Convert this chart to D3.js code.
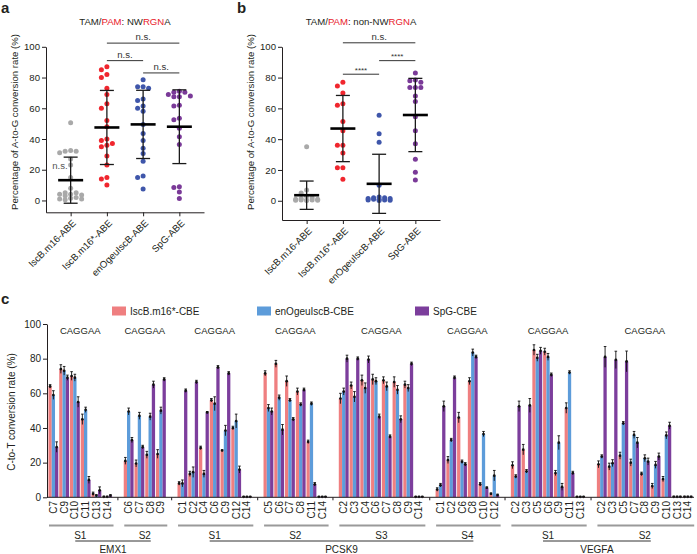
<!DOCTYPE html>
<html><head><meta charset="utf-8">
<script src="https://cdn.jsdelivr.net/npm/d3@7"></script>
<style>
body{margin:0;background:#fff}
svg{display:block;font-family:"Liberation Sans",Arial,Helvetica,sans-serif}
</style>
</head><body>
<svg id="chart" width="697" height="554"></svg>
<script>
// ---------------- Panels a & b data ----------------
const abCategories = ["IscB.m16-ABE","IscB.m16*-ABE","enOgeuIscB-ABE","SpG-ABE"];
const abTicks = [0,20,40,60,80,100];
const abDotColors = ["#a9a9a9","#f0262e","#3f56aa","#7a3a98"];

const aGray   = [50.5,32.5,32,32,31,27,23,15,8,5,5,4,4,3.5,3,2,1.5,1,1,0.5];
const aRed    = [87,85,82,80,73,69,63,60,52,48,40,39,37,36,35,29,23,15,14,10];
const aBlue   = [78.5,74,74,73,66,65,61.5,60,58,49.5,43.5,39,34,30.5,25.5,16,15,7.5];
const aPurple = [71,70.5,70.5,69,68,67.5,67.5,62,61.5,53.5,52.5,47,41.5,36.5,9,8.5,5.5,1.3];
const aMean   = [13.2,47.5,49.5,48];
const aSD     = [15,24.1,22.2,24];
const aBrackets = [[1,3,"n.s."],[1,2,"n.s."],[2,3,"n.s."]];
const aBracketLevels = [102.4,91,83];

const bGray   = [35,7,5,3,2,1.5,1,1,0.5,0.5,0.5,0.3,0.3,0.2];
const bRed    = [77,74.5,70,63,62,51.5,45.5,36,36,31,21.5,21.5,14];
const bBlue   = [55.5,43.5,38,10,2.5,2,2,1.5,1.5,1,1,0.5,0.5,0.3,0.2];
const bPurple = [83,78.5,78,77,73.5,73.5,73.5,68,64.5,54.5,45.5,37,27,18.5,13.5];
const bMean   = [3.6,46.9,11,55.7];
const bSD     = [9.2,21.5,19.2,23.8];
const bBrackets = [[1,3,"n.s."],[2,3,"****"],[1,2,"****"]];
const bBracketLevels = [102.6,91,82.2];

// ---------------- Panel c data ----------------
const cSeries = ["IscB.m16*-CBE","enOgeuIscB-CBE","SpG-CBE"];
const cBarColors = ["#ef7f80","#5d9cda","#7c3e9c"];
const cTicks = [0,20,40,60,80,100];
const cGenes = ["EMX1","PCSK9","VEGFA"];
const cGeneOf = [0,0,1,1,1,1,2,2];
const cSites = ["S1","S2","S1","S2","S3","S4","S1","S2"];
const cMotifs = ["CAGGAA","CAGGAA","CAGGAA","CAGGAA","CAGGAA","CAGGAA","CAGGAA","CAGGAA"];
const cCats = [
  ["C7","C9","C10","C11","C13","C14"],
  ["C6","C7","C8","C9"],
  ["C1","C2","C4","C6","C9","C12","C14"],
  ["C5","C6","C7","C8","C11","C14"],
  ["C2","C3","C4","C6","C7","C8","C9","C14"],
  ["C1","C2","C6","C8","C10","C12"],
  ["C2","C3","C5","C6","C9","C11","C13"],
  ["C2","C3","C5","C7","C8","C9","C10","C13","C14"]
];
const cRed = [
  [64,74,70,45,2,0.3],
  [21,19.5,24.5,25],
  [8,13.5,28.5,56,27,40,0.3],
  [71.5,77,67,61,32,0.3],
  [57,64.5,67.5,68,67.5,66.5,65,0.3],
  [4.5,21.5,46,67,7.5,2],
  [18.5,27.5,85,84,14,51.5,0.3],
  [19,17.7,24,20,13.5,6.5,10.5,0.3,0.3]
];
const cBlue = [
  [59,73,69,50.5,1,0.3],
  [49.5,47,46.5,50],
  [8,14.5,13.5,54,38.5,44,0.3],
  [51.5,57.5,56,53.5,54,0.3],
  [61,58,63,67,64,62,63,0.3],
  [7,33,20.5,83.5,36.5,12.5],
  [12,15,80.5,81,31.5,72,0.3],
  [23.5,19.7,42.7,36,22.5,18.7,35.7,0.3,0.3]
];
const cPurple = [
  [29,69,55,10,4,1],
  [33,29,65,68],
  [61.5,66.5,49,75,71.5,16,0.3],
  [49.5,39,45,62,7.5,0.3],
  [80,80,79.5,46.5,35,45,77,0.3],
  [52.5,69,19,81,5.5,1.3],
  [52.5,53,84.5,70.7,6,14,0.3],
  [81,79.3,78.4,31.5,20.6,23.5,41.3,0.3,0.3]
];
const cRedSD = [
  [1,2.5,2.5,3,1,0.3],[2,2,2,2.5],[1,1.5,1,1,0.5,1,0.2],[1.5,2,3,2,1,0.2],
  [3,2,3,3,2,3,2,0.2],[1,2,3,2,1,0.5],[2,3,3,2,1.5,3,0.2],[2,2,2,2,1,1.5,1.5,0.3,0.3]
];
const cBlueSD = [
  [2.5,2.5,2,1.5,0.5,0.3],[2,2,2,2],[2,3,2,4,3,4,0.2],[2,1.5,1,1,1,0.2],
  [2,3,3,2,2.5,2.5,2,0.2],[1,1,1,2,1.5,3],[1,1,2,2,4,1,0.2],[1,2,1,2,2,2,2,0.3,0.3]
];
const cPurpleSD = [
  [3,1.5,3,2,2,0.5],[1.5,1,2,1],[1,1,0.5,1,1,2,0.2],[2,3,1,1,1,0.2],
  [2,1,2,1.5,1,2,1,0.2],[3,1,1,1,0.5,0.5],[3,4,2,1,2,1,0.2],[6,5,6,3,2,2,2,0.3,0.3]
];

// ---------------- drawing ----------------
const svg = d3.select("#chart");
const INK = "#231f20";
const RED = "#e8202a";

function styleAxis(sel, fs){
  sel.selectAll("path,line").attr("stroke", INK).attr("stroke-width", 1);
  sel.selectAll("text").attr("fill", INK).attr("font-size", fs);
}

function swarm(vals, y, cx, step, minD, maxOff){
  const pts = vals.map(v => ({v, y: y(v)})).sort((a,b) => b.v - a.v);
  const cands = [0];
  for (let k = 1; k * step <= maxOff; k++) cands.push(-k*step, k*step);
  const placed = [];
  pts.forEach(p => {
    let best = cx, bestD = -1;
    for (const o of cands) {
      const x = cx + o;
      let d = Infinity;
      placed.forEach(q => { d = Math.min(d, Math.hypot(q.x - x, q.y - p.y)); });
      if (d >= minD) { best = x; bestD = d; break; }
      if (d > bestD) { bestD = d; best = x; }
    }
    p.x = best; placed.push(p);
  });
  return placed;
}

function scatterPanel(o){
  const g = svg.append("g");
  const y = d3.scaleLinear().domain([o.ymin, 100]).range([o.yBottom, 46.8]);
  const x = d3.scalePoint().domain(abCategories).range([o.x0, o.x0 + 158]).padding(0.68);

  // panel letter
  g.append("text").attr("x", o.x0 - 45).attr("y", 13).attr("font-size", 15)
    .attr("font-weight", "bold").attr("fill", INK).text(o.letter);

  // title
  const t = g.append("text").attr("x", (x(abCategories[0]) + x(abCategories[3])) / 2)
    .attr("y", 24.5).attr("text-anchor", "middle").attr("font-size", 9.6);
  o.title.forEach(([s, c]) => t.append("tspan").attr("fill", c).text(s));

  // y axis
  const ya = g.append("g").attr("transform", `translate(${o.x0},0)`)
    .call(d3.axisLeft(y).tickValues(abTicks).tickSize(4).tickSizeOuter(0).tickPadding(2));
  styleAxis(ya, 9.6);

  // x axis
  const xa = g.append("g").attr("transform", `translate(0,${o.yBottom})`)
    .call(d3.axisBottom(x).tickSize(4).tickSizeOuter(0));
  styleAxis(xa, 9.6);
  xa.selectAll("text").attr("x", 0).attr("y", 0).attr("dy", "0.35em")
    .attr("text-anchor", "end").attr("transform", "translate(3,9) rotate(-45)");

  // y label
  g.append("text").attr("transform", `translate(${o.x0 - 28},122) rotate(-90)`)
    .attr("text-anchor", "middle").attr("font-size", 9.6).attr("fill", INK)
    .text("Percentage of A-to-G conversion rate (%)");

  // dots
  o.groups.forEach((vals, i) => {
    const pts = swarm(vals, y, x(abCategories[i]), 5.5, 5, 13);
    g.append("g").selectAll("circle").data(pts).join("circle")
      .attr("cx", d => d.x).attr("cy", d => d.y).attr("r", 2.5)
      .attr("fill", abDotColors[i]);
  });

  // mean ± SD
  o.means.forEach((m, i) => {
    const cx = x(abCategories[i]), sd = o.sds[i];
    const e = g.append("g").attr("stroke", "#1a1a1a");
    e.append("line").attr("x1", cx).attr("x2", cx).attr("y1", y(m - sd)).attr("y2", y(m + sd)).attr("stroke-width", 1.3);
    [m - sd, m + sd].forEach(v => e.append("line").attr("x1", cx - 7).attr("x2", cx + 7)
      .attr("y1", y(v)).attr("y2", y(v)).attr("stroke-width", 1.3));
    e.append("line").attr("x1", cx - 12.5).attr("x2", cx + 12.5).attr("y1", y(m)).attr("y2", y(m))
      .attr("stroke", "#000").attr("stroke-width", 2.6);
  });

  // significance brackets
  o.brackets.forEach(([a, b, lab], i) => {
    const yy = y(o.levels[i]);
    g.append("line").attr("x1", x(abCategories[a])).attr("x2", x(abCategories[b]))
      .attr("y1", yy).attr("y2", yy).attr("stroke", "#333").attr("stroke-width", 1);
    g.append("text").attr("x", (x(abCategories[a]) + x(abCategories[b])) / 2)
      .attr("y", yy - (lab === "n.s." ? 3 : 1.5)).attr("text-anchor", "middle")
      .attr("font-size", lab === "n.s." ? 9.6 : 8).attr("fill", "#333").text(lab);
  });
  return {g, x, y};
}

const pa = scatterPanel({
  letter: "a", x0: 46, ymin: -7.7, yBottom: 212.3,
  title: [["TAM/", INK], ["PAM", RED], [": NW", INK], ["RGN", RED], ["A", INK]],
  groups: [aGray, aRed, aBlue, aPurple], means: aMean, sds: aSD,
  brackets: aBrackets, levels: aBracketLevels
});
// n.s. label next to the first group of panel a
pa.g.append("text").attr("x", pa.x(abCategories[0]) - 3).attr("y", pa.y(22.5) + 3.5)
  .attr("text-anchor", "end").attr("font-size", 9.6).attr("fill", "#555").text("n.s.");

scatterPanel({
  letter: "b", x0: 282, ymin: -12.5, yBottom: 220,
  title: [["TAM/", INK], ["PAM", RED], [": non-NW", INK], ["RGN", RED], ["A", INK]],
  groups: [bGray, bRed, bBlue, bPurple], means: bMean, sds: bSD,
  brackets: bBrackets, levels: bBracketLevels
});

// ---------------- Panel c ----------------
const gc = svg.append("g");
gc.append("text").attr("x", 1).attr("y", 304).attr("font-size", 15)
  .attr("font-weight", "bold").attr("fill", INK).text("c");

const slots = [];
cCats.forEach((cats, gi) => {
  if (gi > 0) slots.push("gap" + gi);
  cats.forEach(c => slots.push(gi + "|" + c));
});
const xC = d3.scaleBand().domain(slots).range([48, 693.2]).padding(0);
const xS = d3.scaleBand().domain([0,1,2]).range([0.45, xC.bandwidth() - 0.45]).padding(0);
const yC = d3.scaleLinear().domain([0, 100]).range([497.3, 324]);

// y axis
const yca = gc.append("g").attr("transform", "translate(47,0)")
  .call(d3.axisLeft(yC).tickValues(cTicks).tickSize(4).tickSizeOuter(0).tickPadding(2));
styleAxis(yca, 10);
gc.append("text").attr("transform", "translate(15,412) rotate(-90)")
  .attr("text-anchor", "middle").attr("font-size", 10).attr("fill", INK)
  .text("C-to-T conversion rate (%)");

// legend
const legX = [112, 257, 415];
cSeries.forEach((s, i) => {
  gc.append("rect").attr("x", legX[i]).attr("y", 306.5).attr("width", 14).attr("height", 9)
    .attr("fill", cBarColors[i]);
  gc.append("text").attr("x", legX[i] + 18).attr("y", 315).attr("font-size", 10)
    .attr("fill", INK).text(s);
});

const cVals = [cRed, cBlue, cPurple];
const cSDs = [cRedSD, cBlueSD, cPurpleSD];
const bw = xC.bandwidth();
const groupSpan = gi => {
  const cats = cCats[gi];
  const a = xC(gi + "|" + cats[0]), b = xC(gi + "|" + cats[cats.length - 1]) + bw;
  return [a, b];
};

cCats.forEach((cats, gi) => {
  const gg = gc.append("g");
  cats.forEach((cat, ci) => {
    const x0 = xC(gi + "|" + cat);
    cVals.forEach((ser, si) => {
      const v = ser[gi][ci], sd = cSDs[si][gi][ci];
      const xb = x0 + xS(si), w = xS.bandwidth();
      gg.append("rect").attr("x", xb).attr("y", yC(v)).attr("width", w)
        .attr("height", yC(0) - yC(v)).attr("fill", cBarColors[si]);
      const cx = xb + w / 2;
      gg.append("line").attr("x1", cx).attr("x2", cx)
        .attr("y1", yC(Math.max(0, v - sd))).attr("y2", yC(v + sd))
        .attr("stroke", "#111").attr("stroke-width", 0.9);
      gg.append("line").attr("x1", cx - 1.3).attr("x2", cx + 1.3)
        .attr("y1", yC(v + sd)).attr("y2", yC(v + sd))
        .attr("stroke", "#111").attr("stroke-width", 0.9);
      gg.append("circle").attr("cx", cx).attr("cy", yC(v)).attr("r", 1.35).attr("fill", "#111");
    });
    // category label
    gg.append("text").attr("transform", `translate(${x0 + bw / 2},501) rotate(-90)`)
      .attr("dy", "0.35em").attr("text-anchor", "end").attr("font-size", 10)
      .attr("fill", INK).text(cat);
  });
  const [a, b] = groupSpan(gi), mid = (a + b) / 2;
  gg.append("text").attr("x", mid).attr("y", 334).attr("text-anchor", "middle")
    .attr("font-size", 9.5).attr("fill", INK).text(cMotifs[gi]);
  gg.append("line").attr("x1", a + 1).attr("x2", b + 1).attr("y1", 525.5).attr("y2", 525.5)
    .attr("stroke", "#9a9a9a").attr("stroke-width", 2);
  gg.append("text").attr("x", mid).attr("y", 539).attr("text-anchor", "middle")
    .attr("font-size", 10).attr("fill", INK).text(cSites[gi]);
});

// baseline with gap ticks
gc.append("line").attr("x1", 47).attr("x2", 694).attr("y1", yC(0)).attr("y2", yC(0))
  .attr("stroke", INK).attr("stroke-width", 1);
slots.filter(s => s.startsWith("gap")).forEach(s => {
  const cx = xC(s) + bw / 2;
  gc.append("line").attr("x1", cx).attr("x2", cx).attr("y1", yC(0)).attr("y2", yC(0) + 3)
    .attr("stroke", INK).attr("stroke-width", 1);
});

// gene lines & labels
cGenes.forEach((gene, k) => {
  const idx = cGeneOf.map((gk, i) => gk === k ? i : -1).filter(i => i >= 0);
  const s0 = groupSpan(idx[0]), s1 = groupSpan(idx[idx.length - 1]);
  const c0 = (s0[0] + s0[1]) / 2 - 5, c1 = (s1[0] + s1[1]) / 2 + 6;
  gc.append("line").attr("x1", c0).attr("x2", c1).attr("y1", 541).attr("y2", 541)
    .attr("stroke", "#333").attr("stroke-width", 1);
  gc.append("text").attr("x", (c0 + c1) / 2).attr("y", 553).attr("text-anchor", "middle")
    .attr("font-size", 10).attr("fill", INK).text(gene);
});
</script>
</body></html>
